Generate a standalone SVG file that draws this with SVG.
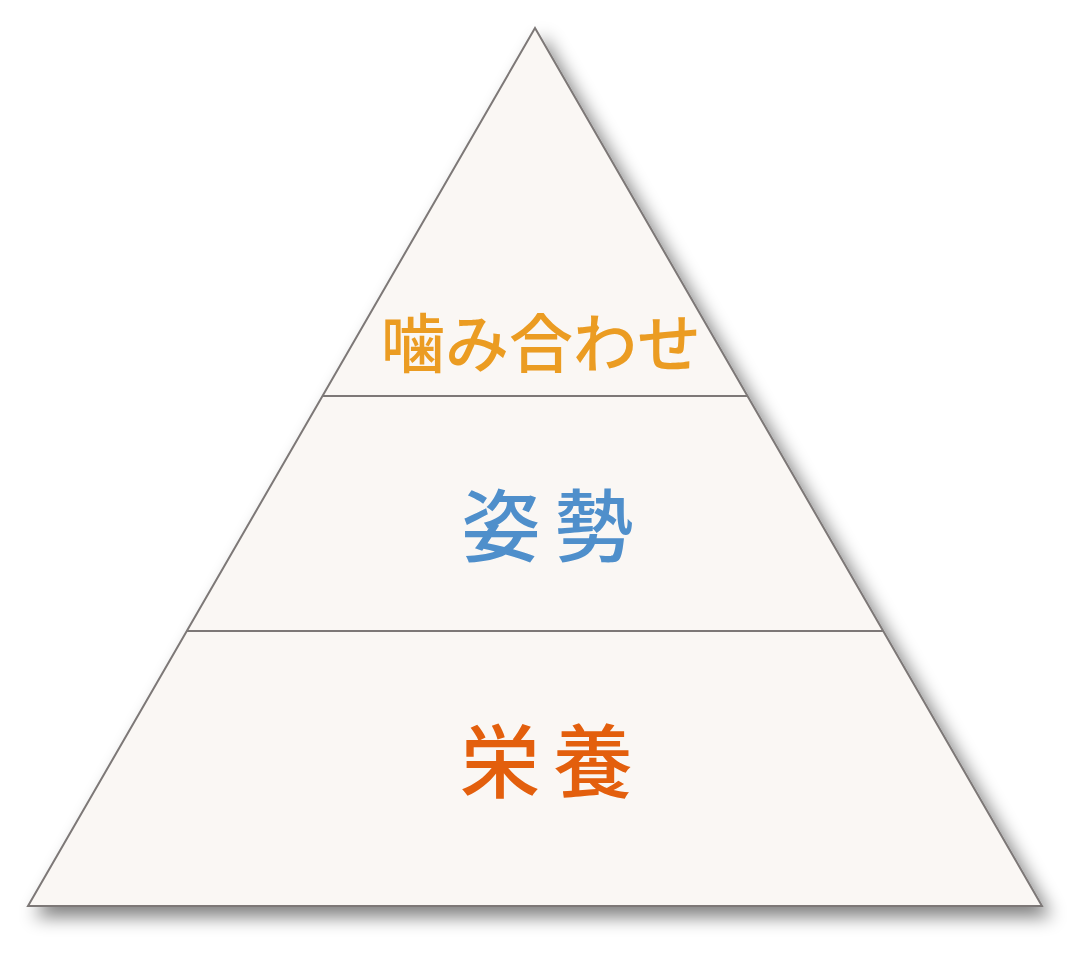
<svg xmlns="http://www.w3.org/2000/svg" width="1090" height="954" viewBox="0 0 1090 954">
<defs>
<filter id="sh" x="-10%" y="-10%" width="125%" height="125%">
<feGaussianBlur in="SourceAlpha" stdDeviation="9"/>
<feOffset dx="8" dy="10" result="b"/>
<feComponentTransfer in="b" result="c"><feFuncA type="linear" slope="0.5"/></feComponentTransfer>
<feMerge><feMergeNode in="c"/><feMergeNode in="SourceGraphic"/></feMerge>
</filter>
<style>
.lbl{font-family:"Noto Sans CJK JP","Noto Sans CJK SC",sans-serif;text-anchor:middle;font-weight:500}
.div{stroke:#7d7877;stroke-width:2;fill:none}
</style>
</defs>
<rect width="1090" height="954" fill="#ffffff"/>
<g id="pyramid" filter="url(#sh)">
<polygon points="535,28 1042,906 28,906" fill="#faf7f4" stroke="#7d7877" stroke-width="2" stroke-linejoin="miter"/>
</g>
<g id="connectors">
<line class="div" x1="322" y1="396" x2="748" y2="396"/>
<line class="div" x1="187" y1="631" x2="883" y2="631"/>
</g>
<g id="top">
<text class="lbl" x="541" y="367" font-size="64" fill="#eb9c22">噛み合わせ</text>
</g>
<g id="middle">
<text class="lbl" x="501" y="556" font-size="79" fill="#4f8fcb">姿</text>
<text class="lbl" x="594" y="556" font-size="79" fill="#4f8fcb">勢</text>
</g>
<g id="bottom">
<text class="lbl" x="500" y="791" font-size="80" fill="#e35f0d">栄</text>
<text class="lbl" x="593" y="791" font-size="80" fill="#e35f0d">養</text>
</g>
</svg>
